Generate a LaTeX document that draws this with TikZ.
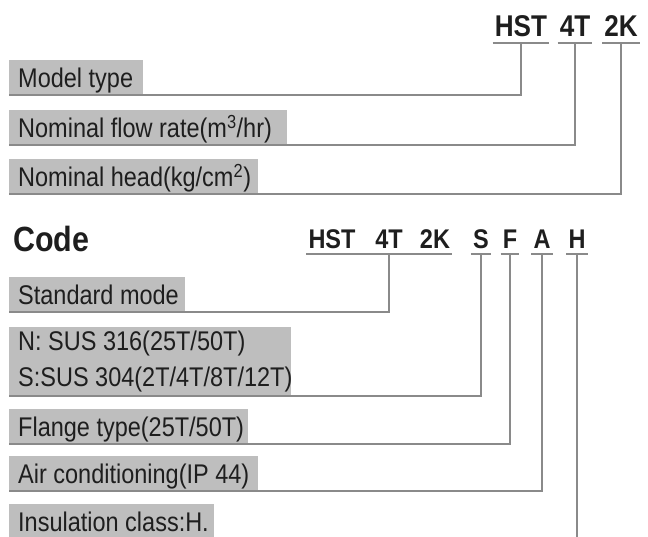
\documentclass[tikz,border=0pt]{standalone}
\usepackage{fontspec}
\setmainfont{Liberation Sans}[FakeStretch=0.87]
\definecolor{boxgray}{HTML}{BEBEBE}
\definecolor{linegray}{HTML}{8A8A8A}
\definecolor{ink}{HTML}{1E1E1E}
\newcommand{\boxtext}[2]{\makebox[#1][l]{#2}}
\tikzstyle{boxbase}=[fill=boxgray, anchor=south west, inner xsep=9pt, align=left, text=ink, font=\fontsize{27}{36}\selectfont]
\tikzstyle{infobox}=[boxbase, inner ysep=0pt, text height=28pt, text depth=7pt]
\tikzstyle{codetop}=[anchor=south, inner xsep=2pt, inner ysep=0pt, text depth=6pt, text=ink, font=\fontsize{30}{30}\selectfont\bfseries]
\tikzstyle{codemid}=[anchor=south, inner xsep=2pt, inner ysep=0pt, text depth=5pt, text=ink, font=\fontsize{27}{27}\selectfont\bfseries]
\tikzstyle{conn}=[draw=linegray, line width=1.5pt]

\begin{document}
\begin{tikzpicture}[x=1pt, y=-1pt]
\useasboundingbox (0,0) rectangle (648,536);

% model code, top
\node[codetop] (hst) at (521, 43) {HST};
\node[codetop] (t4)  at (575, 43) {4T};
\node[codetop] (k2)  at (621, 43) {2K};

\node[infobox] (model) at (9, 95)  {\boxtext{116pt}{Model type}};
\node[infobox] (flow)  at (9, 145) {\boxtext{260pt}{Nominal flow rate(m\textsuperscript{3}/hr)}};
\node[infobox] (head)  at (9, 194) {\boxtext{231pt}{Nominal head(kg/cm\textsuperscript{2})}};

\draw[conn] (hst.south west) -- (hst.south east);
\draw[conn] (t4.south west) -- (t4.south east);
\draw[conn] (k2.south west) -- (k2.south east);
\draw[conn] (model.south west) -| (hst.south);
\draw[conn] (flow.south west) -| (t4.south);
\draw[conn] (head.south west) -| (k2.south);

% full code
\node[anchor=base west, inner sep=0pt, text=ink, font=\fontsize{35}{35}\selectfont\bfseries] (code) at (13, 251) {Code};

\node[codemid] (hst2) at (332, 254) {HST};
\node[codemid] (t42)  at (389, 254) {4T};
\node[codemid] (k22)  at (435, 254) {2K};
\node[codemid] (s)    at (481, 254) {S};
\node[codemid] (f)    at (510, 254) {F};
\node[codemid] (a)    at (542, 254) {A};
\node[codemid] (h)    at (577, 254) {H};

\node[infobox] (std)    at (9, 312) {\boxtext{158pt}{Standard mode}};
\node[boxbase, inner ysep=0pt] (mat) at (9, 396)
  {\rule{0pt}{24pt}\boxtext{264pt}{N: SUS 316(25T/50T)}\\\rule[-9pt]{0pt}{9pt}\boxtext{264pt}{S:SUS 304(2T/4T/8T/12T)}};
\node[infobox] (flange) at (9, 444) {\boxtext{221pt}{Flange type(25T/50T)}};
\node[infobox] (air)    at (9, 491) {\boxtext{231pt}{Air conditioning(IP 44)}};
\node[infobox] (ins)    at (9, 539) {\boxtext{187pt}{Insulation class:H.}};

\draw[conn] (hst2.south west) -- (k22.south east);
\foreach \c in {s, f, a, h}
  \draw[conn] (\c.south west) -- (\c.south east);
\draw[conn] (std.south west) -| (t42.south);
\draw[conn] (mat.south west) -| (s.south);
\draw[conn] (flange.south west) -| (f.south);
\draw[conn] (air.south west) -| (a.south);
\draw[conn] (ins.south west) -| (h.south);

\end{tikzpicture}
\end{document}
